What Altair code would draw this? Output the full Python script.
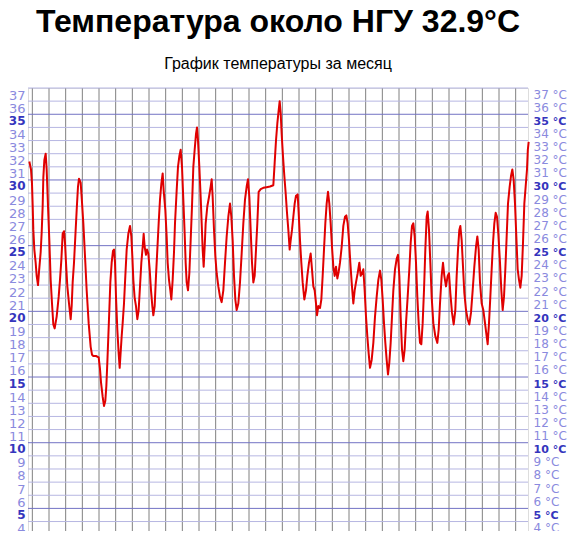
import altair as alt
import pandas as pd

TITLE = "Температура около НГУ 32.9°C"
SUBTITLE = "График температуры за месяц"

# time in days since the start of the displayed month window
days = [
    0.08, 0.18, 0.24, 0.28, 0.32, 0.38, 0.46, 0.52, 0.60, 0.66,
    0.76, 0.82, 0.88, 0.92, 0.98, 1.06, 1.12, 1.20, 1.28, 1.36,
    1.44, 1.52, 1.60, 1.72, 1.84, 1.92, 2.00, 2.08, 2.16, 2.22,
    2.28, 2.36, 2.46, 2.56, 2.62, 2.68, 2.76, 2.84, 2.92, 3.00,
    3.06, 3.16, 3.24, 3.32, 3.44, 3.52, 3.64, 3.76, 3.84, 3.92,
    4.08, 4.24, 4.32, 4.38, 4.48, 4.56, 4.64, 4.70, 4.76, 4.82,
    4.88, 4.94, 5.02, 5.10, 5.16, 5.22, 5.28, 5.36, 5.44, 5.50,
    5.56, 5.62, 5.68, 5.76, 5.84, 5.92, 6.02, 6.12, 6.20, 6.26,
    6.32, 6.40, 6.48, 6.56, 6.64, 6.72, 6.80, 6.88, 6.94, 7.00,
    7.08, 7.14, 7.22, 7.30, 7.38, 7.46, 7.52, 7.60, 7.68, 7.76,
    7.84, 7.92, 8.00, 8.08, 8.14, 8.24, 8.32, 8.38, 8.46, 8.54,
    8.60, 8.68, 8.76, 8.82, 8.92, 9.00, 9.08, 9.16, 9.24, 9.32,
    9.40, 9.46, 9.52, 9.60, 9.68, 9.76, 9.84, 9.92, 10.00, 10.08,
    10.14, 10.20, 10.28, 10.36, 10.42, 10.48, 10.54, 10.60, 10.66, 10.76,
    10.86, 10.96, 11.02, 11.08, 11.16, 11.24, 11.32, 11.42, 11.52, 11.62,
    11.72, 11.82, 11.92, 12.02, 12.12, 12.20, 12.28, 12.36, 12.44, 12.52,
    12.62, 12.72, 12.82, 12.92, 13.02, 13.12, 13.20, 13.28, 13.36, 13.44,
    13.52, 13.60, 13.68, 13.76, 13.84, 13.96, 14.12, 14.32, 14.52, 14.72,
    14.80, 14.88, 14.96, 15.04, 15.10, 15.16, 15.22, 15.30, 15.38, 15.46,
    15.54, 15.62, 15.70, 15.76, 15.84, 15.92, 16.00, 16.08, 16.18, 16.24,
    16.32, 16.40, 16.48, 16.58, 16.68, 16.76, 16.86, 16.96, 17.04, 17.12,
    17.20, 17.28, 17.34, 17.42, 17.52, 17.60, 17.68, 17.76, 17.84, 17.92,
    18.00, 18.08, 18.16, 18.24, 18.32, 18.40, 18.48, 18.56, 18.64, 18.72,
    18.82, 18.92, 19.02, 19.10, 19.18, 19.26, 19.34, 19.42, 19.52, 19.60,
    19.68, 19.78, 19.88, 19.96, 20.04, 20.12, 20.20, 20.28, 20.36, 20.44,
    20.52, 20.62, 20.72, 20.82, 20.92, 21.02, 21.12, 21.20, 21.28, 21.36,
    21.44, 21.52, 21.60, 21.68, 21.76, 21.84, 21.92, 22.02, 22.12, 22.20,
    22.28, 22.36, 22.44, 22.52, 22.60, 22.68, 22.78, 22.88, 22.96, 23.04,
    23.12, 23.20, 23.28, 23.36, 23.44, 23.52, 23.60, 23.68, 23.76, 23.84,
    23.92, 23.98, 24.06, 24.14, 24.22, 24.32, 24.44, 24.56, 24.64, 24.72,
    24.82, 24.90, 24.98, 25.08, 25.18, 25.26, 25.34, 25.44, 25.54, 25.64,
    25.72, 25.80, 25.88, 25.94, 26.02, 26.10, 26.18, 26.28, 26.38, 26.48,
    26.58, 26.68, 26.78, 26.88, 26.96, 27.04, 27.12, 27.22, 27.32, 27.42,
    27.52, 27.58, 27.66, 27.74, 27.82, 27.90, 27.98, 28.06, 28.14, 28.22,
    28.32, 28.40, 28.48, 28.56, 28.64, 28.72, 28.80, 28.90, 28.98, 29.06,
    29.14, 29.22, 29.30, 29.38, 29.46, 29.54, 29.62, 29.70, 29.78, 29.86,
    29.94, 29.99, 30.04,
]

temps = [
    31.4, 30.8, 29.7, 28.1, 26.2, 24.7, 23.7, 22.7, 22.0, 23.0,
    24.5, 26.0, 28.0, 30.2, 31.5, 32.0, 30.8, 28.0, 25.4, 22.4,
    20.6, 19.0, 18.7, 19.6, 21.1, 22.4, 23.9, 25.9, 26.1, 25.2,
    23.7, 21.9, 20.6, 19.4, 20.4, 22.2, 23.7, 25.7, 27.7, 29.5,
    30.1, 29.8, 28.3, 26.7, 23.7, 21.6, 19.1, 17.3, 16.7, 16.6,
    16.6, 16.5, 15.6, 14.6, 13.5, 12.8, 13.2, 14.3, 16.1, 18.1,
    20.1, 22.2, 23.7, 24.6, 24.7, 23.7, 21.1, 18.6, 16.8, 15.7,
    16.9, 18.1, 19.1, 20.6, 22.7, 24.7, 25.9, 26.5, 25.7, 24.2,
    22.4, 21.0, 20.4, 19.4, 20.1, 21.9, 23.7, 24.9, 25.9, 24.9,
    24.3, 24.7, 24.4, 23.2, 21.6, 20.4, 19.7, 20.4, 22.7, 24.7,
    26.7, 28.5, 29.7, 30.5, 29.2, 27.7, 25.7, 23.7, 22.4, 21.6,
    20.9, 22.4, 24.5, 26.7, 29.2, 31.0, 31.8, 32.3, 31.0, 28.5,
    25.9, 23.7, 22.2, 21.6, 22.9, 25.4, 28.0, 31.0, 32.3, 33.5,
    34.0, 33.0, 31.0, 28.7, 26.7, 24.7, 23.4, 24.9, 26.7, 28.0,
    28.7, 29.5, 30.05, 28.7, 26.2, 24.2, 22.9, 21.9, 21.1, 20.7,
    21.6, 23.7, 25.7, 27.2, 28.2, 27.2, 25.4, 22.7, 20.9, 20.1,
    20.6, 22.2, 24.4, 26.7, 28.5, 29.5, 30.05, 28.7, 26.2, 23.7,
    22.2, 22.7, 24.7, 26.7, 29.1, 29.3, 29.4, 29.45, 29.5, 29.6,
    31.3, 33.0, 34.3, 35.3, 36.0, 35.1, 33.5, 31.8, 30.3, 29.0,
    27.5, 26.2, 24.7, 25.4, 26.2, 27.2, 28.2, 28.8, 28.9, 27.5,
    25.4, 23.7, 22.2, 20.9, 21.6, 22.7, 23.7, 24.4, 23.2, 21.9,
    21.6, 20.6, 19.7, 20.4, 20.25, 20.9, 22.7, 24.7, 26.7, 28.2,
    29.1, 28.2, 26.7, 24.9, 23.4, 22.7, 23.4, 22.5, 23.0, 23.7,
    24.9, 26.5, 27.2, 27.3, 26.7, 25.4, 23.7, 22.2, 20.6, 21.6,
    22.2, 22.9, 23.7, 22.7, 22.9, 23.2, 21.6, 19.6, 18.1, 16.8,
    15.7, 16.3, 17.6, 19.6, 21.1, 22.4, 23.1, 22.4, 20.9, 19.1,
    17.6, 16.3, 15.2, 16.1, 17.6, 19.6, 21.6, 23.2, 24.0, 24.3,
    22.7, 19.6, 17.1, 16.2, 17.1, 19.1, 21.1, 23.2, 25.2, 26.5,
    26.7, 25.7, 23.7, 21.1, 19.1, 17.6, 17.5, 19.1, 21.6, 24.7,
    27.2, 27.6, 26.2, 23.7, 21.1, 19.1, 18.1, 17.6, 18.6, 20.6,
    22.7, 23.7, 22.7, 21.9, 22.7, 22.9, 21.4, 19.9, 19.0, 20.1,
    22.7, 24.7, 26.2, 26.5, 25.4, 23.4, 21.4, 20.1, 19.4, 19.0,
    19.9, 21.6, 23.4, 24.9, 25.7, 24.7, 22.2, 20.6, 20.1, 19.1,
    18.1, 17.5, 19.1, 21.1, 23.2, 25.2, 26.7, 27.5, 27.2, 25.9,
    23.7, 21.6, 20.1, 21.1, 23.2, 25.7, 28.2, 29.5, 30.3, 30.8,
    30.0, 28.2, 25.7, 23.2, 22.4, 21.8, 22.7, 25.2, 28.2, 29.5,
    30.8, 32.3, 32.9,
]

y_ticks = list(range(4, 38))                          # one line per degree
day_lines = [round(0.26 + k, 2) for k in range(30)]   # midnights

df = pd.DataFrame({"day": days, "temp": temps})
hgrid = pd.DataFrame({"v": y_ticks})
vgrid = pd.DataFrame({"d": day_lines})

xscale = alt.Scale(domain=[0, 30], nice=False, zero=False)
yscale = alt.Scale(domain=[3.28, 37], nice=False, zero=False)

five = "datum.value % 5 === 0"
lab_color = {"condition": {"test": five, "value": "#3535bd"}, "value": "#8a8ade"}
lab_weight = {"condition": {"test": five, "value": "bold"}, "value": "normal"}

common = dict(
    values=y_ticks, title=None, ticks=False, domain=False, grid=False,
    labelFont="DejaVu Sans", labelColor=lab_color,
    labelFontWeight=lab_weight, labelBaseline="top", labelOffset=1,
    labelOverlap=False, labelBound=False, labelFlush=False,
)
left_axis = alt.Axis(
    orient="left", labelPadding=3,
    labelFontSize={"condition": {"test": five, "value": 12}, "value": 13},
    **common,
)
right_axis = alt.Axis(
    orient="right", labelPadding=5, labelExpr="datum.value + ' °C'",
    labelFontSize={"condition": {"test": five, "value": 11}, "value": 12},
    **common,
)

vrules = alt.Chart(vgrid).mark_rule(color="#808080", strokeWidth=1).encode(
    x=alt.X("d:Q", scale=xscale, axis=None),
)

hrules = alt.Chart(hgrid).mark_rule(strokeWidth=1).encode(
    y=alt.Y("v:Q", scale=yscale, axis=left_axis),
    color=alt.condition("datum.v % 5 === 0", alt.value("#7373c4"), alt.value("#b6b6e2")),
)

line = alt.Chart(df).mark_line(color="#e00000", strokeWidth=2, clip=False,
                               strokeJoin="round").encode(
    x=alt.X("day:Q", scale=xscale, axis=None),
    y=alt.Y("temp:Q", scale=yscale, axis=None),
)

right = alt.Chart(hgrid).mark_point(opacity=0).encode(
    x=alt.value(0),
    y=alt.Y("v:Q", scale=yscale, axis=right_axis),
)

chart = alt.layer(vrules, hrules, line, right).resolve_axis(y="independent").properties(
    width=500,
    height=443,
    autosize=alt.AutoSizeParams(type="none"),
    padding={"left": 20, "right": 39, "top": 80, "bottom": 0},
    title=alt.TitleParams(
        text=TITLE, subtitle=SUBTITLE,
        font="Liberation Sans", fontSize=32, fontWeight="bold", color="black",
        subtitleFont="Liberation Sans", subtitleFontSize=16,
        subtitleColor="black", subtitlePadding=17, anchor="middle", offset=12,
    ),
).configure_view(stroke=None).configure(background="white")

chart.save("out.html", embed_options={"renderer": "svg", "actions": False})
